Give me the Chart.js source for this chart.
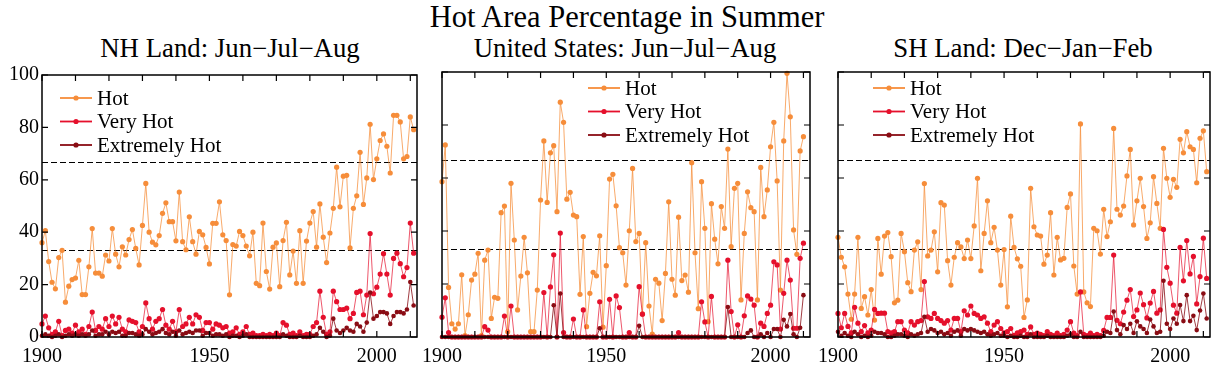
<!DOCTYPE html>
<html>
<head>
<meta charset="utf-8">
<script src="https://cdn.jsdelivr.net/npm/chart.js@4.4.1/dist/chart.umd.min.js"></script>
<style>
    body { margin: 0; background: #fff; width: 1214px; height: 367px; overflow: hidden; position: relative;
           font-family: "Liberation Serif", "Times New Roman", serif; color: #000; }
    .title { position: absolute; left: 0; top: 0; width: 1254px; text-align: center; font-size: 30.5px; line-height: 34px; }
    .sub { position: absolute; top: 33px; width: 400px; text-align: center; font-size: 26.8px; line-height: 30px; }
    canvas { position: absolute; }
</style>
</head>
<body>
<div class="title">Hot Area Percentage in Summer</div>
<div class="sub" style="left:30px">NH Land: Jun−Jul−Aug</div>
<div class="sub" style="left:425px">United States: Jun−Jul−Aug</div>
<div class="sub" style="left:823px">SH Land: Dec−Jan−Feb</div>
<canvas id="nh" width="422" height="307" style="left:0;top:60px"></canvas>
<canvas id="us" width="400" height="307" style="left:414px;top:60px"></canvas>
<canvas id="sh" width="404" height="307" style="left:810px;top:60px"></canvas>
<script>
const years = [
    1900, 1901, 1902, 1903, 1904, 1905, 1906, 1907, 1908, 1909,
    1910, 1911, 1912, 1913, 1914, 1915, 1916, 1917, 1918, 1919,
    1920, 1921, 1922, 1923, 1924, 1925, 1926, 1927, 1928, 1929,
    1930, 1931, 1932, 1933, 1934, 1935, 1936, 1937, 1938, 1939,
    1940, 1941, 1942, 1943, 1944, 1945, 1946, 1947, 1948, 1949,
    1950, 1951, 1952, 1953, 1954, 1955, 1956, 1957, 1958, 1959,
    1960, 1961, 1962, 1963, 1964, 1965, 1966, 1967, 1968, 1969,
    1970, 1971, 1972, 1973, 1974, 1975, 1976, 1977, 1978, 1979,
    1980, 1981, 1982, 1983, 1984, 1985, 1986, 1987, 1988, 1989,
    1990, 1991, 1992, 1993, 1994, 1995, 1996, 1997, 1998, 1999,
    2000, 2001, 2002, 2003, 2004, 2005, 2006, 2007, 2008, 2009,
    2010, 2011
];

// NH land, Jun-Jul-Aug
const nhHot = [
    36, 40.6, 28.8, 20.9, 18.4, 30.3, 33.1, 13.3, 19.4, 21.9,
    22.5, 29.3, 16.2, 16.2, 26.8, 41.4, 24.4, 24.4, 23.2, 31.3,
    29, 41.4, 31.6, 26.8, 34.4, 31.3, 37.2, 41, 33.8, 27.5,
    42.6, 58.6, 40, 36.2, 35.2, 38.7, 47.2, 51.2, 44, 44,
    36.7, 55.3, 36.4, 33.3, 45.9, 36.4, 31.6, 40.3, 39, 34.2,
    27.9, 43.4, 43.4, 51.6, 39, 36.8, 16.1, 35.3, 34.7, 40.3,
    38.7, 34.7, 31, 40, 20.5, 19.6, 43.5, 25, 18.3, 34.3,
    35.9, 19.2, 36.8, 43.8, 23.7, 32.8, 20.5, 40.6, 20.5, 36.6,
    43.5, 47.9, 34.3, 50.8, 38.1, 28.4, 39.7, 49.1, 64.8, 49.7,
    61.4, 61.7, 34, 49.1, 53.9, 70.5, 50.6, 60.7, 81.2, 60.1,
    68, 75, 77.5, 72.8, 62.6, 84.6, 84.6, 82.1, 68, 68.9,
    84, 79.1
];
const nhVeryHot = [
    5, 8, 3.5, 1, 2, 6, 0.5, 2.5, 3, 1.5,
    4.5, 2, 3, 1, 4, 9.5, 2.5, 4, 3, 7,
    4, 8, 5, 7.5, 3, 2, 6.5, 6, 5.5, 2,
    4, 13, 7, 3, 6, 7, 10.5, 4.5, 3, 6,
    2, 10.5, 4, 5, 7.5, 5, 8.5, 7.5, 2.5, 5.5,
    5.5, 3, 5, 4.5, 3.5, 4, 1.5, 2, 3.5, 1,
    2, 4, 1, 1.5, 0.5, 0.5, 1, 0.5, 1, 0.5,
    1.5, 0.5, 5.5, 4.5, 1, 1.5, 0.5, 2, 0.5, 1,
    1, 4, 5.5, 17.5, 7.5, 1, 2, 17.5, 13.5, 10.5,
    10.5, 11, 7, 9, 17, 17.5, 8.5, 16, 39.5, 16.5,
    19, 24, 31.8, 24, 16, 30, 32, 28, 23, 26.5,
    43.5, 32
];
const nhExtreme = [
    0.5, 1, 0.5, 0, 0.5, 1, 0, 0.5, 1, 0.5,
    1, 0.5, 1, 0.5, 1, 2.5, 0.5, 1, 1, 2,
    1, 2, 1.5, 2, 0.5, 0.5, 1.5, 1.5, 1, 0.5,
    1, 3, 2, 1, 1.5, 2, 3, 1.5, 1, 2,
    0.5, 2.5, 1, 1.5, 2, 1.5, 2.5, 2.5, 0.5, 1.5,
    1.5, 0.5, 1, 1, 0.5, 1, 0, 0.5, 0.5, 0,
    0.5, 1, 0, 0, 0, 0, 0, 0, 0, 0,
    0, 0, 1, 0.5, 0, 0, 0, 0.5, 0, 0,
    0, 0.5, 1, 3.5, 2, 0, 0.5, 7, 2.5, 1.5,
    2.5, 3.5, 2.5, 2, 5, 4, 2, 5.5, 17, 7,
    8, 9.5, 9.5, 9, 5, 8, 9.5, 9.5, 9, 10.5,
    21, 12
];

// United States, Jun-Jul-Aug (ends 2010)
const usHot = [
    58.6, 72.5, 18.7, 5, 3, 5, 23.5, 0.5, 8.4, 21.5,
    23.7, 31.6, 0.5, 29, 32.8, 7, 15, 14.6, 46.9, 49.4,
    2, 58, 36.6, 10.2, 23, 37.6, 24.2, 2, 2, 17.7,
    51.7, 74, 50.8, 69.5, 72.2, 47.3, 88.6, 81, 52, 54.6,
    46, 45.4, 16.1, 37.9, 3.9, 16.5, 24.4, 23.1, 38.2, 3.7,
    26.9, 59.6, 61.4, 49.5, 33.7, 31.8, 19.6, 40.1, 63.6, 36,
    39.1, 8.7, 35.6, 11.7, 1.1, 21.8, 20.3, 6.2, 24, 51,
    21.8, 15.8, 45.2, 21.3, 23.4, 16.9, 65.8, 31.8, 10.7, 58.6,
    41, 5.8, 50.3, 36.9, 27.6, 49.2, 41, 70.9, 34.1, 56.1,
    58, 14, 39.1, 54.8, 48.8, 47.3, 14, 64, 45.4, 55.5,
    71.8, 81, 58.9, 17.7, 74, 99.5, 83.1, 40.4, 31.2, 70.2,
    75.6
];
const usVeryHot = [
    7.5, 14.8, 1.7, 0, 0, 0, 0, 0, 0, 0,
    0, 0, 0, 3.9, 2.6, 0, 0, 0, 0, 7.9,
    0, 11.7, 0, 0, 0, 0, 0, 0, 0, 0,
    0, 16.8, 0, 18.9, 31, 0, 39.2, 1.7, 0, 0,
    6.8, 0, 0, 10.2, 0, 0, 0, 0, 13.3, 0,
    0, 14.2, 0, 15.5, 11.1, 0, 0, 1.7, 0, 0,
    19, 8.6, 0, 0, 0, 0, 0, 0, 0, 0,
    0, 0, 1.7, 0, 0, 0, 0, 0, 0, 13.3,
    5.7, 0, 15.3, 0, 0, 0, 0, 29, 9.6, 0,
    4.6, 0, 8, 15.5, 14.3, 12, 0, 5.2, 4, 8.9,
    12, 28.4, 27.2, 3, 16.5, 29, 21.5, 3.3, 3.3, 29.7,
    35.4
];
const usExtreme = [
    0, 0, 0, 0, 0, 0, 0, 0, 0, 0,
    0, 0, 0, 0, 0, 0, 0, 0, 0, 0,
    0, 0, 0, 0, 0, 0, 0, 0, 0, 0,
    0, 0, 0, 0, 12, 0, 16.4, 0, 0, 0,
    0, 0, 0, 0, 0, 0, 0, 0, 3.3, 0,
    0, 0, 0, 0, 0, 0, 0, 0, 0, 0,
    4.2, 0, 0, 0, 0, 0, 0, 0, 0, 0,
    0, 0, 0, 0, 0, 0, 0, 0, 0, 0,
    0, 0, 0, 0, 0, 0, 0, 11.3, 0, 0,
    0, 0, 0, 1.5, 2.5, 0, 0, 1, 0, 1.5,
    0, 3, 3, 0, 6.5, 4, 8.7, 1, 0, 3.5,
    15.8
];

// SH land, Dec-Jan-Feb
const shHot = [
    37.6, 30.1, 26.5, 16.2, 6.7, 16.2, 37.6, 10.8, 15.2, 8.3,
    17.9, 6.4, 37.2, 23.7, 38.1, 39.4, 30.3, 12.9, 13.9, 39.1,
    32.2, 20.5, 17.1, 32.8, 35.9, 17.9, 57.9, 30.6, 32.8, 39.7,
    24.6, 50.7, 49.8, 28.8, 19.6, 30.1, 35.6, 34, 29.6, 36.6,
    29.6, 41.9, 59.9, 25, 39.1, 51.4, 35.6, 41.4, 32.8, 19.6,
    33, 11.4, 45.6, 33.8, 29.5, 26.7, 7.4, 14, 56.1, 41.6,
    38.5, 38.1, 27.5, 30.9, 46.9, 23.4, 37.6, 29.1, 29.7, 48.9,
    54, 26.8, 16.2, 80.4, 17, 12.9, 11.5, 41, 40.1, 31.3,
    48.2, 37.9, 43.5, 78.7, 48.2, 46, 49.4, 60.8, 70.8, 42.3,
    51.4, 59.9, 49.2, 37.2, 43.1, 60.5, 50.4, 41, 71.2, 59.9,
    52.7, 59.5, 56.5, 74.6, 69.5, 77.5, 71.8, 70.8, 58.2, 75,
    77.8, 62.4
];
const shVeryHot = [
    8.9, 3.5, 8.9, 4, 1.6, 11.2, 5.2, 2, 4.3, 1.6,
    2.6, 10.4, 8.9, 9, 9, 2, 1.6, 2, 5.8, 5.8,
    2.6, 1.6, 5.8, 4.5, 5.8, 6.2, 20.9, 7.6, 7, 8.9,
    7, 6.2, 5.2, 6.2, 2.6, 7, 7, 2, 9.9, 8.3,
    11.7, 8.9, 8.3, 7, 7.6, 5.2, 2, 4.5, 5.8, 3.2,
    1.6, 2, 3.2, 0.6, 1.6, 2, 2.6, 1, 3.8, 1,
    1.5, 1, 0.5, 2, 1, 0.5, 1.5, 0.5, 1, 2.6,
    5.8, 1.5, 0.5, 17, 1, 0.5, 1.5, 0.5, 1, 0.5,
    2.5, 7.4, 7.4, 30.9, 6.3, 5, 9.4, 13.9, 17.9, 7.7,
    10.2, 16.6, 12.2, 7.2, 12.8, 17.2, 9, 10.2, 40.6, 26.3,
    20.3, 12, 9, 33.8, 21.2, 36.4, 23.8, 30.4, 12.5, 22.8,
    37.3, 22.1
];
const shExtreme = [
    2, 0.5, 1.5, 0.5, 0, 2, 1, 0, 0.5, 0,
    0.5, 2, 1.5, 1.5, 1, 0, 0, 0.5, 1, 1,
    0.5, 0, 1, 0.5, 1, 1.5, 7.6, 2, 3, 2.5,
    1.5, 2, 1, 1.5, 0.5, 2, 2.5, 0.5, 3, 2.5,
    3, 2.5, 2, 1.5, 2, 1, 0.5, 1, 1.5, 0.5,
    0.5, 0, 0.5, 0, 0, 0.5, 0, 0, 1, 0,
    0, 0, 0, 0.5, 0, 0, 0, 0, 0, 0.5,
    1, 0, 0, 2, 0, 0, 0, 0, 0, 0,
    0.5, 2, 1.5, 9.6, 2.6, 1, 4.5, 3, 5, 1.5,
    5.9, 4, 3, 1.5, 6.6, 4, 1.5, 2, 21.2, 5,
    3, 7, 5, 12.1, 6, 15.8, 6, 8, 2.6, 10,
    16.4, 7
];

const seriesNames = ['Hot', 'Very Hot', 'Extremely Hot'];
const seriesColors = ['#f68d3a', '#e5102c', '#8a0c14'];
const lineColors = ['rgba(246,141,58,0.75)', 'rgba(229,16,44,0.7)', 'rgba(138,12,20,0.8)'];
const xLabelTicks = [1900, 1950, 2000];
const xMinorTicks = [1900, 1910, 1920, 1930, 1940, 1950, 1960, 1970, 1980, 1990, 2000, 2010];
const yTicks = [0, 20, 40, 60, 80, 100];
const refLines = [33.3, 66.7];

const serif = "'Liberation Serif', 'Times New Roman', serif";

function toPoints(values) {
    return values.map((v, i) => ({ x: years[i], y: v }));
}

const panelPlugin = {
    id: 'panel',
    beforeDatasetsDraw(chart) {
        const ctx = chart.ctx;
        const area = chart.chartArea;
        const y = chart.scales.y;
        ctx.save();
        ctx.strokeStyle = '#000';
        ctx.lineWidth = 1;
        ctx.setLineDash([6, 3]);
        refLines.forEach(v => {
            const py = Math.round(y.getPixelForValue(v)) + 0.5;
            ctx.beginPath();
            ctx.moveTo(area.left, py);
            ctx.lineTo(area.right, py);
            ctx.stroke();
        });
        ctx.restore();
    },
    afterDatasetsDraw(chart, args, opts) {
        const ctx = chart.ctx;
        const area = chart.chartArea;
        const x = chart.scales.x;
        const y = chart.scales.y;
        ctx.save();
        ctx.strokeStyle = '#000';
        ctx.lineWidth = 1.5;
        ctx.strokeRect(area.left, area.top, area.right - area.left, area.bottom - area.top);
        ctx.lineWidth = 1.2;
        ctx.beginPath();
        xMinorTicks.forEach(v => {
            const px = x.getPixelForValue(v);
            ctx.moveTo(px, area.top); ctx.lineTo(px, area.top + 6);
            ctx.moveTo(px, area.bottom); ctx.lineTo(px, area.bottom - 6);
        });
        yTicks.forEach(v => {
            const py = y.getPixelForValue(v);
            ctx.moveTo(area.left, py); ctx.lineTo(area.left + 6, py);
            ctx.moveTo(area.right, py); ctx.lineTo(area.right - 6, py);
        });
        ctx.stroke();

        // legend: line with a dot, then the name
        ctx.font = '21px ' + serif;
        ctx.textBaseline = 'middle';
        seriesNames.forEach((name, i) => {
            const ly = opts.legendY + i * 23.5;
            ctx.strokeStyle = seriesColors[i];
            ctx.lineWidth = 1.8;
            ctx.beginPath();
            ctx.moveTo(opts.legendX, ly);
            ctx.lineTo(opts.legendX + 32, ly);
            ctx.stroke();
            ctx.fillStyle = seriesColors[i];
            ctx.beginPath();
            ctx.arc(opts.legendX + 16, ly, 2.6, 0, Math.PI * 2);
            ctx.fill();
            ctx.fillStyle = '#000';
            ctx.fillText(name, opts.legendX + 37, ly + 1);
        });
        ctx.restore();
    }
};

function makePanel(canvasId, hot, veryHot, extreme, showY, yWidth, padRight, legendX, legendY) {
    const values = [hot, veryHot, extreme];
    const datasets = values.map((vals, i) => ({
        label: seriesNames[i],
        data: toPoints(vals),
        borderColor: lineColors[i],
        backgroundColor: seriesColors[i],
        pointBackgroundColor: seriesColors[i],
        pointBorderWidth: 0,
        pointRadius: i === 2 ? 2.3 : 2.6,
        borderWidth: 1,
        tension: 0,
        order: 3 - i,
        clip: 4
    }));

    return new Chart(document.getElementById(canvasId), {
        type: 'line',
        data: { datasets: datasets },
        plugins: [panelPlugin],
        options: {
            responsive: false,
            animation: false,
            events: [],
            layout: { padding: { top: 12, right: padRight, left: 0, bottom: 0 } },
            plugins: {
                legend: { display: false },
                tooltip: { enabled: false },
                panel: { legendX: legendX, legendY: legendY }
            },
            scales: {
                x: {
                    type: 'linear',
                    min: 1900,
                    max: 2012,
                    grid: { display: false, drawTicks: false },
                    border: { display: false },
                    afterBuildTicks: s => { s.ticks = xLabelTicks.map(v => ({ value: v })); },
                    afterFit: s => { s.height = 30; },
                    ticks: {
                        color: '#000',
                        padding: 8,
                        maxRotation: 0,
                        font: { family: serif, size: 20 },
                        callback: v => String(v)
                    }
                },
                y: {
                    min: 0,
                    max: 100,
                    grid: { display: false, drawTicks: false },
                    border: { display: false },
                    afterBuildTicks: s => { s.ticks = yTicks.map(v => ({ value: v })); },
                    afterFit: s => { s.width = yWidth; },
                    ticks: {
                        display: showY,
                        color: '#000',
                        padding: 3,
                        font: { family: serif, size: 20 },
                        callback: v => String(v)
                    }
                }
            }
        }
    });
}

makePanel('nh', nhHot, nhVeryHot, nhExtreme, true, 42, 5, 60, 38);
makePanel('us', usHot, usVeryHot, usExtreme, false, 25, 3, 174, 28);
makePanel('sh', shHot, shVeryHot, shExtreme, false, 25, 4, 63, 28);
</script>
</body>
</html>
